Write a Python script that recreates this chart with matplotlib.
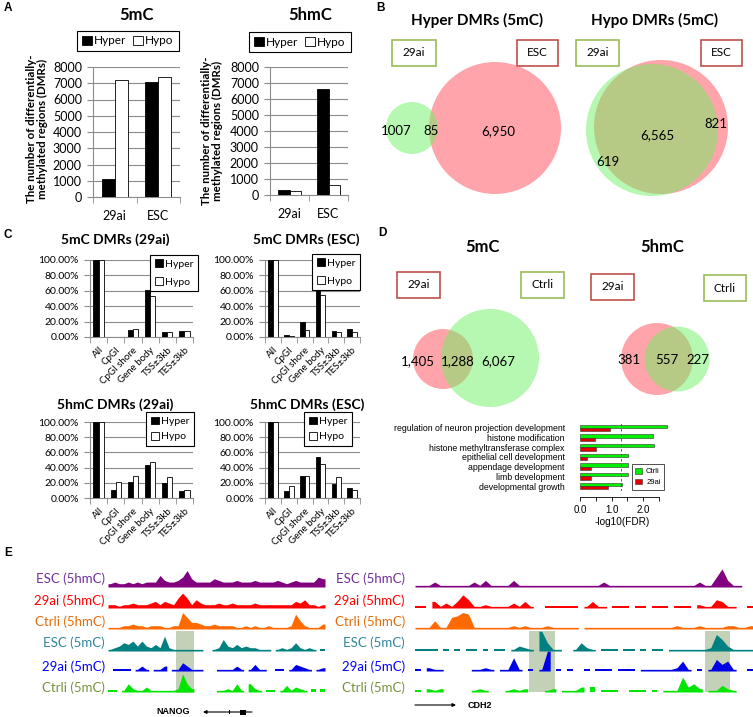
import numpy as np
import matplotlib
matplotlib.use('Agg')
import matplotlib.pyplot as plt
from matplotlib.patches import Circle, Rectangle

W, H = 753, 717
plt.rcParams['font.family'] = ['Lato', 'DejaVu Sans']
ARIAL = ['Liberation Sans', 'DejaVu Sans']

# --- A: number of DMRs ---
a_groups = ['29ai', 'ESC']
a_5mc_hyper = [1100, 7050]
a_5mc_hypo = [7200, 7400]
a_5hmc_hyper = [330, 6620]
a_5hmc_hypo = [220, 600]

# --- B: venn labels (left only, overlap, right only) ---
b_hyper_labels = ['1007', '85', '6,950']
b_hypo_labels = ['619', '6,565', '821']

# --- C: genomic feature distribution (%) ---
c_cats = ['All', 'CpGI', 'CpGI shore', 'Gene body', 'TSS±3kb', 'TES±3kb']
c_5mc_29ai_hyper = [100, 0.5, 9, 61, 7, 8]
c_5mc_29ai_hypo = [100, 0.5, 10, 53, 6.5, 7.5]
c_5mc_esc_hyper = [100, 3, 19, 65, 8, 10]
c_5mc_esc_hypo = [100, 1.5, 9, 54, 6.5, 6.5]
c_5hmc_29ai_hyper = [100, 10, 21, 43, 20, 9]
c_5hmc_29ai_hypo = [100, 21, 29, 47, 27, 10]
c_5hmc_esc_hyper = [100, 9.5, 29, 54, 18, 13]
c_5hmc_esc_hypo = [100, 16, 29, 45, 27, 11]

# --- D: venn labels + GO enrichment ---
d_5mc_labels = ['1,405', '1,288', '6,067']
d_5hmc_labels = ['381', '557', '227']
go_terms = ['regulation of neuron projection development', 'histone modification',
            'histone methyltransferase complex', 'epithelial cell development',
            'appendage development', 'limb development', 'developmental growth']
go_ctrli = [2.76, 2.31, 2.34, 1.52, 1.52, 1.52, 1.33]
go_29ai = [0.96, 0.49, 0.51, 0.22, 0.35, 0.35, 0.89]

# --- E: genome browser tracks (binned signal, None = no data) ---
track_names = ['ESC (5hmC)', '29ai (5hmC)', 'Ctrli (5hmC)', 'ESC (5mC)', '29ai (5mC)', 'Ctrli (5mC)']
nanog_esc_5hmc = [2, 3, 2, 2, 3, 2, 3, 2, 3, 3, 3, 7, 4, 3, 3, 4, 6, 10, 5, 3, 3, 3, 3, 5,
                  4, 3, 3, 3, 4, 3, 3, 3, 4, 3, 3, 3, 3, 4, 3, 2, 3, 4, 3, 3, 3, 3, 6, 5]
nanog_29ai_5hmc = [2, 2, 1, 2, 2, 3, 2, 2, 2, 3, 4, 2, 4, 3, 2, 6, 9, 6, 2, 5, 3, 2, 2, 2,
                   3, 2, 2, 3, 2, 2, 2, 2, 3, 2, 2, 2, 2, 2, 2, 2, 2, 4, 3, 5, 2, 2, 1, 2]
nanog_ctrli_5hmc = [1, 1, 1, 2, 2, 3, 2, 2, 1, 2, 2, 2, 1, 1, 2, 2, 10, 7, 4, 4, 3, 2, 2, 3,
                    2, 2, 2, 2, 1, 1, 2, 1, 2, 1, 1, 2, 1, 1, 1, 1, 2, 9, 5, 2, 1, 1, 1, 3]
nanog_esc_5mc = [1, 2, 3, 5, 4, 6, 3, 6, 3, 2, 4, 2, 9, 2, 1, 1, 1, 1, 1, 1, 1, None, None, 1,
                 2, 7, 3, 2, 4, 2, 3, 2, 2, 1, 1, 1, None, 1, 2, 1, 2, 5, 2, 1, 2, 1, None, 1]
nanog_29ai_5mc = [None, 1, 1, 1, 1, None, 1, 3, 1, None, 1, 1, 3, None, 1, 1, 5, 3, 1, 1, 1, None, None, None,
                  1, 1, 1, 1, 3, 1, None, 1, 4, 1, 1, None, None, 1, 1, None, 1, 4, 3, 2, 1, None, 1, 2]
nanog_ctrli_5mc = [1, 1, None, 1, 5, 2, 1, 1, 3, 1, 1, 1, 1, 1, 1, 2, 11, 5, 2, None, None, None, None, None,
                   1, 1, 2, 1, 5, 1, None, 5, 2, 1, None, 1, 1, None, 1, 4, 1, 3, 2, 1, None, 2, None, 2]

cdh2_esc_5hmc = [1, 1, 1, 3, 1, 1, 1, 1, 1, 1, 3, 1, 4, 1, 1, 1, 1, 4, 1, 1,
                 1, 1, 1, 1, 1, 1, 1, 1, 1, 1, 1, 1, 1, 3, 1, 1, 1, 1, 1, 1,
                 1, 1, 1, 1, 1, 1, 1, 1, 1, 1, 3, 1, 1, 6, 11, 4, 1, 1, None, None]
cdh2_29ai_5hmc = [1, 1, None, 4, 1, 3, 1, 4, 8, 5, 1, 1, 2, 1, 1, 1, 1, 3, 1, 4,
                  1, None, None, 1, 1, 1, 1, 1, 1, None, 1, 4, 1, 1, None, 1, 1, 1, None, 1,
                  1, None, 1, 1, 1, None, 1, 1, 1, None, 2, 1, 1, 5, 4, 1, 1, None, None, 1]
cdh2_ctrli_5hmc = [1, 1, 1, 5, 1, 1, 7, 8, 10, 9, 1, 1, 1, 1, 1, 1, 1, 2, 1, 2,
                   1, 1, 1, 2, 1, 1, 1, 1, 1, None, 1, 1, 1, 1, 1, 1, 1, 1, 1, 1,
                   1, 1, 1, 1, 1, 1, 2, 1, 1, 1, 2, 1, 1, 1, 1, 2, 2, 1, 1, 2]
cdh2_esc_5mc = [1, 1, 1, 1, None, 1, None, 1, None, 1, 1, None, 1, None, 1, 1, None, 1, 3, 2,
                1, None, 12, 5, 1, 1, None, None, 1, 5, 2, 1, None, 1, 1, 1, None, 1, 1, None,
                1, None, 1, 1, None, 1, 1, 1, 1, 1, 1, 1, 2, 10, 7, 3, 1, 1, 1, 1]
cdh2_29ai_5mc = [1, None, 2, 1, 1, None, None, None, None, None, 1, 1, 2, 1, None, 1, 1, 8, 1, None,
                 1, None, 1, 12, None, 1, None, 1, None, None, 1, None, 1, 1, 1, None, 1, 1, 1, None,
                 1, 1, 1, 1, 1, 1, 2, 6, 1, None, 1, None, 1, 7, 4, 6, 1, None, None, 1]
cdh2_ctrli_5mc = [1, None, 2, 1, 2, None, None, None, None, None, 1, 2, 1, None, None, None, 1, 2, 1, 2,
                  None, None, None, 1, 2, None, 1, 1, 1, 3, None, 3, None, 1, 1, 1, None, None, 1, 1,
                  1, None, 1, None, 1, 1, 1, 9, 3, 5, 2, None, 1, 1, 4, 2, 1, None, None, None]

nanog_tracks = [nanog_esc_5hmc, nanog_29ai_5hmc, nanog_ctrli_5hmc, nanog_esc_5mc, nanog_29ai_5mc, nanog_ctrli_5mc]
cdh2_tracks = [cdh2_esc_5hmc, cdh2_29ai_5hmc, cdh2_ctrli_5hmc, cdh2_esc_5mc, cdh2_29ai_5mc, cdh2_ctrli_5mc]

# colours
GRID = '#8c8c8c'
RED_BOX = '#C0504D'
GREEN_BOX = '#9BBB59'
track_colors = ['#800080', '#FF0000', '#FF6A00', '#008080', '#0000E6', '#00E600']
label_colors = ['#7030A0', '#FF0000', '#E46C0A', '#31859C', '#0000FF', '#76923C']

fig = plt.figure(figsize=(W / 100, H / 100), dpi=100)


def fig_rect(x0, y0, x1, y1):
    return [x0 / W, 1 - y1 / H, (x1 - x0) / W, (y1 - y0) / H]


def fpt(x, y):
    return (x / W, 1 - y / H)


def excel_bars(rect, cats, hyper, hypo, ymax, step, fmt, tick_fs, xlab_fs, rot):
    ax = fig.add_axes(fig_rect(*rect))
    x = np.arange(len(cats))
    ax.bar(x - 0.15, hyper, 0.3, color='black', edgecolor='black', lw=0.6, zorder=3, label='Hyper')
    ax.bar(x + 0.15, hypo, 0.3, color='white', edgecolor='black', lw=0.6, zorder=3, label='Hypo')
    ax.set_xlim(-0.5, len(cats) - 0.5)
    ax.set_ylim(0, ymax)
    ticks = np.arange(0, ymax + step / 2, step)
    ax.set_yticks(ticks)
    ax.set_yticklabels([fmt(t) for t in ticks], fontsize=tick_fs)
    ax.yaxis.grid(True, color=GRID, lw=0.8)
    ax.set_axisbelow(True)
    for s in ['top', 'right']:
        ax.spines[s].set_visible(False)
    for s in ['left', 'bottom']:
        ax.spines[s].set_color(GRID)
        ax.spines[s].set_linewidth(0.8)
    ax.set_xticks(x)
    if rot:
        ax.set_xticklabels(cats, fontsize=xlab_fs, rotation=45, ha='right', rotation_mode='anchor')
        ax.tick_params(axis='x', which='major', length=0, pad=6)
    else:
        ax.set_xticklabels(cats, fontsize=xlab_fs)
        ax.tick_params(axis='x', which='major', length=0, pad=9)
    ax.set_xticks(np.arange(-0.5, len(cats)), minor=True)
    ax.tick_params(axis='x', which='minor', length=4, color=GRID)
    ax.tick_params(axis='y', length=4, color=GRID, pad=4)
    return ax


def box_legend(ax, center, ncol, fs, spacing):
    leg = ax.legend(loc='center', bbox_to_anchor=fpt(*center), bbox_transform=fig.transFigure,
                    ncol=ncol, fontsize=fs, frameon=True, fancybox=False, edgecolor='black',
                    framealpha=1, handlelength=0.8, handleheight=0.8, handletextpad=0.2,
                    columnspacing=0.6, borderpad=0.4, labelspacing=spacing)
    leg.get_frame().set_linewidth(0.8)
    leg.set_zorder(10)


# ---- Panel A ----
fmt_int = lambda t: f'{t:.0f}'
axA1 = excel_bars((93, 67, 180, 197), a_groups, a_5mc_hyper, a_5mc_hypo, 8000, 1000, fmt_int, 9, 9, False)
box_legend(axA1, (128, 41), 2, 8.5, 0.3)
axA2 = excel_bars((270, 67, 348, 195), a_groups, a_5hmc_hyper, a_5hmc_hypo, 8000, 1000, fmt_int, 9, 9, False)
box_legend(axA2, (300, 42), 2, 8.5, 0.3)

# ---- Panel C ----
fmt_pct = lambda t: f'{t:.2f}%'
c_specs = [((90, 260, 193, 337), c_5mc_29ai_hyper, c_5mc_29ai_hypo, (174, 273), 0.8),
           ((265, 260, 360, 337), c_5mc_esc_hyper, c_5mc_esc_hypo, (336, 272), 0.8),
           ((90, 422, 193, 498), c_5hmc_29ai_hyper, c_5hmc_29ai_hypo, (170, 429), 0.55),
           ((265, 422, 360, 498), c_5hmc_esc_hyper, c_5hmc_esc_hypo, (328, 429), 0.55)]
for rect, hy, ho, lc, sp in c_specs:
    axc = excel_bars(rect, c_cats, hy, ho, 100, 20, fmt_pct, 7.5, 7, True)
    box_legend(axc, lc, 1, 7.5, sp)

# ---- Panel D: GO bars ----
axg = fig.add_axes(fig_rect(580, 423, 670, 491))
gpos = np.arange(len(go_terms))[::-1] * 3
axg.barh(gpos + 1.5, go_ctrli, 1, color='#00EE00', edgecolor='#333333', lw=0.4, label='Ctrli')
axg.barh(gpos + 0.5, go_29ai, 1, color='#E00000', edgecolor='#333333', lw=0.4, label='29ai')
axg.axvline(1.3, ls=(0, (3, 3)), color='#444444', lw=0.6)
axg.set_xlim(0, 2.85)
axg.set_ylim(-0.5, 20.5)
axg.set_yticks(gpos + 1)
axg.set_yticklabels(go_terms, fontsize=6.3, family=ARIAL)
axg.tick_params(axis='y', length=0, pad=11)
for s in ['left', 'top', 'right']:
    axg.spines[s].set_visible(False)
axg.spines['bottom'].set_position(('outward', 4))
axg.spines['bottom'].set_bounds(0, 2.5)
axg.spines['bottom'].set_linewidth(0.6)
axg.set_xticks(np.arange(0, 2.51, 0.5))
axg.set_xticklabels(['0.0', '', '1.0', '', '2.0', ''], fontsize=7, family=ARIAL)
axg.tick_params(axis='x', length=3, width=0.6, pad=3)
leg = axg.legend(loc='center', bbox_to_anchor=fpt(648, 477), bbox_transform=fig.transFigure,
                 prop={'family': ARIAL, 'size': 5.5}, fancybox=False, edgecolor='#333333',
                 framealpha=1, handlelength=0.8, handleheight=0.8, handletextpad=0.6,
                 borderpad=0.5, labelspacing=0.4)
leg.get_frame().set_linewidth(0.6)

# ---- overlay: text, venns, tracks ----
ov = fig.add_axes([0, 0, 1, 1], zorder=20)
ov.set_xlim(0, W)
ov.set_ylim(H, 0)
ov.axis('off')

for letter, (lx, ly) in zip('ABCDE', [(8, 8), (381, 8), (8, 235), (382, 233), (8, 553)]):
    ov.text(lx, ly, letter, fontsize=8.5, fontweight='bold', family=ARIAL, ha='center', va='center')

# titles
for txt, (tx, ty), fs in [('5mC', (137, 15), 12), ('5hmC', (310, 15), 12),
                          ('Hyper DMRs (5mC)', (477, 20), 11), ('Hypo DMRs (5mC)', (655, 20), 11),
                          ('5mC DMRs (29ai)', (115, 240), 10), ('5mC DMRs (ESC)', (306, 240), 10),
                          ('5hmC DMRs (29ai)', (115, 405), 10), ('5hmC DMRs (ESC)', (307, 405), 10),
                          ('5mC', (483, 247), 12), ('5hmC', (662, 247), 12)]:
    ov.text(tx, ty, txt, fontsize=fs, fontweight='bold', ha='center', va='center')

ylab = 'The number of differentially-\nmethylated regions (DMRs)'
ov.text(37, 129, ylab, rotation=90, fontsize=8.3, fontweight='bold', ha='center', va='center', linespacing=1.0)
ov.text(212, 131, ylab, rotation=90, fontsize=8.3, fontweight='bold', ha='center', va='center', linespacing=1.0)

ov.text(622, 522, '-log10(FDR)', fontsize=7.2, family=ARIAL, ha='center', va='center')

# labelled boxes
for txt, (x0, y0, x1, y1), ec in [('29ai', (392, 40, 436, 66), GREEN_BOX), ('ESC', (517, 40, 558, 66), RED_BOX),
                                 ('29ai', (576, 40, 619, 66), GREEN_BOX), ('ESC', (701, 40, 742, 66), RED_BOX),
                                 ('29ai', (397, 272, 440, 298), RED_BOX), ('Ctrli', (521, 272, 564, 298), GREEN_BOX),
                                 ('29ai', (591, 274, 634, 300), RED_BOX), ('Ctrli', (704, 275, 746, 301), GREEN_BOX)]:
    ov.add_patch(Rectangle((x0, y0), x1 - x0, y1 - y0, fill=False, ec=ec, lw=1.2))
    ov.text((x0 + x1) / 2, (y0 + y1) / 2, txt, fontsize=8.5, ha='center', va='center')

RED_FILL = dict(color='#FF5A64', alpha=0.55, lw=0)
GREEN_FILL = dict(color='#6EF064', alpha=0.5, lw=0)


def venn(c_red, r_red, c_green, r_green, labels, label_pos):
    ov.add_patch(Circle(c_red, r_red, **RED_FILL))
    ov.add_patch(Circle(c_green, r_green, **GREEN_FILL))
    for lab, p in zip(labels, label_pos):
        ov.text(p[0], p[1], lab, fontsize=9.5, ha='center', va='center')


venn((495, 128), 66, (412, 128), 26, b_hyper_labels, [(396, 131), (431, 131), (498, 131)])
venn((661, 127), 67, (652, 130), 66, b_hypo_labels, [(608, 162), (657, 135), (716, 124)])
venn((443, 359), 30, (490, 358), 49, d_5mc_labels, [(418, 361), (458, 361), (498, 361)])
venn((657, 359), 36, (677, 359), 32.5, d_5hmc_labels, [(629, 360), (667, 360), (698, 360)])

# tracks
HSCALE = 1.65
baselines = [587, 608, 629, 651, 671, 692]
label_ys = [579, 601, 622, 643, 667, 688]


def draw_track(vals, x0, x1, base, color):
    v = np.array(vals, dtype=float)
    n = len(v)
    edges = np.linspace(x0, x1, n + 1)
    centers = (edges[:-1] + edges[1:]) / 2
    ok = ~np.isnan(v)
    i = 0
    while i < n:
        if not ok[i]:
            i += 1
            continue
        j = i
        while j + 1 < n and ok[j + 1]:
            j += 1
        xs = np.concatenate([[edges[i]], centers[i:j + 1], [edges[j + 1]]])
        hs = np.concatenate([[v[i]], v[i:j + 1], [v[j]]])
        ov.fill_between(xs, base, base - hs * HSCALE, color=color, lw=0, zorder=3)
        i = j + 1


shade = dict(color='#C3D1B8', lw=0, zorder=1)
ov.add_patch(Rectangle((176, 631), 18, 62, **shade))
ov.add_patch(Rectangle((529, 631), 26, 61, **shade))
ov.add_patch(Rectangle((705, 631), 25, 61, **shade))

for k in range(len(track_names)):
    draw_track(nanog_tracks[k], 108, 325, baselines[k], track_colors[k])
    draw_track(cdh2_tracks[k], 415, 753, baselines[k], track_colors[k])
    ov.text(105, label_ys[k], track_names[k], color=label_colors[k], fontsize=9.5, ha='right', va='center')
    ov.text(405, label_ys[k], track_names[k], color=label_colors[k], fontsize=9.5, ha='right', va='center')

# gene models
ov.text(173, 712, 'NANOG', fontsize=6.5, fontweight='bold', family=ARIAL, ha='center', va='center')
ov.annotate('', xy=(203, 712), xytext=(252, 712),
            arrowprops=dict(arrowstyle='-|>', lw=0.8, color='black', mutation_scale=5, shrinkA=0, shrinkB=0))
ov.add_patch(Rectangle((229, 710), 1.5, 4, color='black', lw=0))
ov.add_patch(Rectangle((240, 709.5), 6, 5, color='black', lw=0))
ov.annotate('', xy=(456, 705), xytext=(415, 705),
            arrowprops=dict(arrowstyle='-|>', lw=0.8, color='black', mutation_scale=5, shrinkA=0, shrinkB=0))
ov.text(468, 706, 'CDH2', fontsize=6.5, fontweight='bold', family=ARIAL, ha='left', va='center')

fig.savefig('out.png', dpi=100)
